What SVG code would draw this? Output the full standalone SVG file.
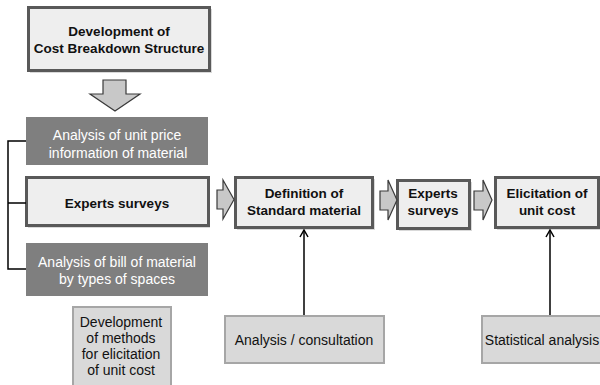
<svg xmlns="http://www.w3.org/2000/svg" width="600" height="385" viewBox="0 0 600 385">
<defs>
<style>
.thick{fill:#eeeeee;stroke:#595959;stroke-width:3}
.dark{fill:#7f7f7f}
.light{fill:#d9d9d9;stroke:#a6a6a6;stroke-width:2}
.blk{fill:#c8c8c8;stroke:#3a3a3a;stroke-width:1.2}
.b{font-family:"Liberation Sans",Arial,sans-serif;font-weight:bold;font-size:13.5px;fill:#111;text-anchor:middle}
.w{font-family:"Liberation Sans",Arial,sans-serif;font-size:14px;fill:#ffffff;text-anchor:middle}
.r{font-family:"Liberation Sans",Arial,sans-serif;font-size:14px;fill:#111;text-anchor:middle}
.ln{fill:none;stroke:#000;stroke-width:1.5}
.sh{fill:#000;opacity:0.15}
</style>
<marker id="ah" viewBox="0 0 10 10" refX="9" refY="5" markerWidth="10" markerHeight="10" markerUnits="userSpaceOnUse" orient="auto">
<path d="M2,1 L9,5 L2,9" fill="none" stroke="#000" stroke-width="1.5"/>
</marker>
</defs>
<rect width="600" height="385" fill="#ffffff"/>

<g id="cbs">
<rect x="30" y="9" width="182" height="64" class="sh"/>
<rect x="28.5" y="7.5" width="181" height="63" class="thick"/>
<text x="119" y="36" class="b">Development of</text>
<text x="119" y="53" class="b">Cost Breakdown Structure</text>
</g>

<g id="unitprice">
<rect x="26" y="117" width="182" height="48" class="dark"/>
<text x="117" y="140" class="w">Analysis of unit price</text>
<text x="118" y="158" class="w">information of material</text>
</g>

<g id="experts1">
<rect x="28" y="179" width="182" height="49" class="sh"/>
<rect x="26.5" y="177.5" width="182" height="48" class="thick"/>
<text x="117" y="208" class="b">Experts surveys</text>
</g>

<g id="bom">
<rect x="26" y="243" width="182" height="53" class="dark"/>
<text x="117" y="267" class="w">Analysis of bill of material</text>
<text x="117" y="284" class="w">by types of spaces</text>
</g>

<g id="methods">
<rect x="73" y="307" width="98" height="82" class="light"/>
<text x="121" y="327" class="r">Development</text>
<text x="121" y="343" class="r">of methods</text>
<text x="121" y="359" class="r">for elicitation</text>
<text x="121" y="375" class="r">of unit cost</text>
</g>

<g id="definition">
<rect x="237" y="179" width="138" height="51" class="sh"/>
<rect x="235.5" y="177.5" width="137" height="50" class="thick"/>
<text x="304" y="198" class="b">Definition of</text>
<text x="304" y="215" class="b">Standard material</text>
</g>

<g id="experts2">
<rect x="399" y="182" width="73" height="49" class="sh"/>
<rect x="397.5" y="180.5" width="72" height="48" class="thick"/>
<text x="433" y="198" class="b">Experts</text>
<text x="433" y="215" class="b">surveys</text>
</g>

<g id="elicitation">
<rect x="497" y="179" width="105" height="51" class="sh"/>
<rect x="495.5" y="177.5" width="103" height="50" class="thick"/>
<text x="547" y="198" class="b">Elicitation of</text>
<text x="547" y="215" class="b">unit cost</text>
</g>

<g id="consultation">
<rect x="225" y="316" width="159" height="47" class="light"/>
<text x="304" y="345" class="r">Analysis / consultation</text>
</g>

<g id="statistical">
<rect x="482" y="316" width="125" height="47" class="light"/>
<text x="542" y="345" class="r">Statistical analysis</text>
</g>

<g id="connectors">
<path d="M103,80 H126 V94 H140 L115,111 L90,94 H103 Z" class="blk"/>
<path d="M217,190 H223 V180 L234,199.5 L223,219 V209 H217 Z" class="blk"/>
<path d="M380,191 H388 V180 L397,200 L388,220 V210 H380 Z" class="blk"/>
<path d="M474,191 H483 V180 L492,200 L483,220 V210 H474 Z" class="blk"/>
<path d="M26,141 H8 V269 H26 M8,203 H26" class="ln"/>
<path d="M304,315 V230" class="ln" marker-end="url(#ah)"/>
<path d="M550,315 V230" class="ln" marker-end="url(#ah)"/>
</g>
</svg>
